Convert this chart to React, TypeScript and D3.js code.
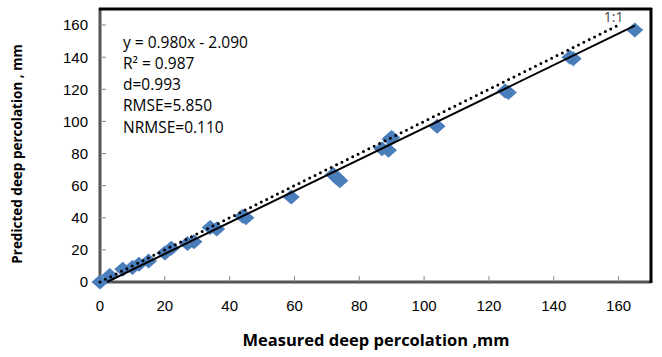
import React from "react";
import * as d3 from "d3";

const measured = [0, 3, 7, 10, 12, 15, 20, 22, 27, 29, 34, 36, 44, 45, 59, 72, 73, 74, 87, 89, 89.5, 90, 104, 125, 126, 145, 146, 165];
const predicted = [0, 4, 8, 9, 11, 13, 18, 21, 24, 25, 34, 33, 41, 40, 53, 67, 65, 63, 83, 82, 89, 90, 97, 119, 118, 140, 139, 157];
const xTicks = [0, 20, 40, 60, 80, 100, 120, 140, 160];
const yTicks = [0, 20, 40, 60, 80, 100, 120, 140, 160];
const statsLines = ["y = 0.980x - 2.090", "R² = 0.987", "d=0.993", "RMSE=5.850", "NRMSE=0.110"];
const slope = 0.98;
const intercept = -2.09;

export default function App() {
  const W = 662, H = 357;
  const left = 100, right = 651, top = 9, bottom = 282;
  const x = d3.scaleLinear().domain([0, 170]).range([left, right]);
  const y = d3.scaleLinear().domain([0, 170]).range([bottom, top]);
  const line = d3.line<[number, number]>().x(d => x(d[0])).y(d => y(d[1]));
  const x0 = -intercept / slope;
  const regPts: [number, number][] = [[x0, 0], [165, slope * 165 + intercept]];
  const onePts: [number, number][] = [[0, 0], [160, 160]];
  const diamond = (cx: number, cy: number) => `M${cx},${cy - 7.5}L${cx + 8.5},${cy}L${cx},${cy + 7.5}L${cx - 8.5},${cy}Z`;
  return (
    <svg width={W} height={H} style={{ position: "absolute", left: 0, top: 0, background: "#fff" }}>
      {/* axes */}
      <line x1={left} x2={left} y1={top - 1} y2={bottom + 1} stroke="#555" strokeWidth={3} />
      <line x1={left - 1} x2={right} y1={bottom} y2={bottom} stroke="#555" strokeWidth={3} />
      <line x1={left - 1} x2={right + 1} y1={top} y2={top} stroke="#000" strokeWidth={3} />
      <line x1={right} x2={right} y1={top - 1} y2={bottom + 1} stroke="#000" strokeWidth={3} />
      {yTicks.map(t => (
        <g key={"y" + t}>
          <line x1={left} x2={left + 6} y1={y(t)} y2={y(t)} stroke="#888" strokeWidth={1} />
          <text x={left - 12} y={y(t)} dy="0.36em" textAnchor="end" fontFamily="Liberation Sans, Arial, sans-serif" fontSize={15} fill="#000">{t}</text>
        </g>
      ))}
      {xTicks.map(t => (
        <g key={"x" + t}>
          <line x1={x(t)} x2={x(t)} y1={bottom} y2={bottom - 6} stroke="#888" strokeWidth={1} />
          <text x={x(t)} y={bottom + 29} textAnchor="middle" fontFamily="Liberation Sans, Arial, sans-serif" fontSize={15} fill="#000">{t}</text>
        </g>
      ))}
      {/* points */}
      {measured.map((m, i) => (
        <path key={i} d={diamond(x(m), y(predicted[i]))} fill="#4A7EBB" />
      ))}
      {/* lines */}
      <path d={line(onePts) || ""} fill="none" stroke="#000" strokeWidth={3} strokeDasharray="0 6" strokeLinecap="round" />
      <path d={line(regPts) || ""} fill="none" stroke="#000" strokeWidth={2} />
      <text x={x(160) - 5} y={y(162)} fontFamily="Open Sans, sans-serif" fontSize={14} fill="#444" textAnchor="middle">1:1</text>
      {statsLines.map((s, i) => (
        <text key={s} x={123} y={47.5 + i * 21.3} fontFamily="Open Sans, sans-serif" fontSize={15.5} fill="#000">{s}</text>
      ))}
      <text x={376} y={346} textAnchor="middle" fontFamily="Open Sans, sans-serif" fontWeight="bold" fontSize={16.5} fill="#000">Measured deep percolation ,mm</text>
      <text transform={`translate(22,${154}) rotate(-90)`} textAnchor="middle" fontFamily="Open Sans, sans-serif" fontWeight="bold" fontSize={13.5} fill="#000">Predicted deep percolation , mm</text>
    </svg>
  );
}
